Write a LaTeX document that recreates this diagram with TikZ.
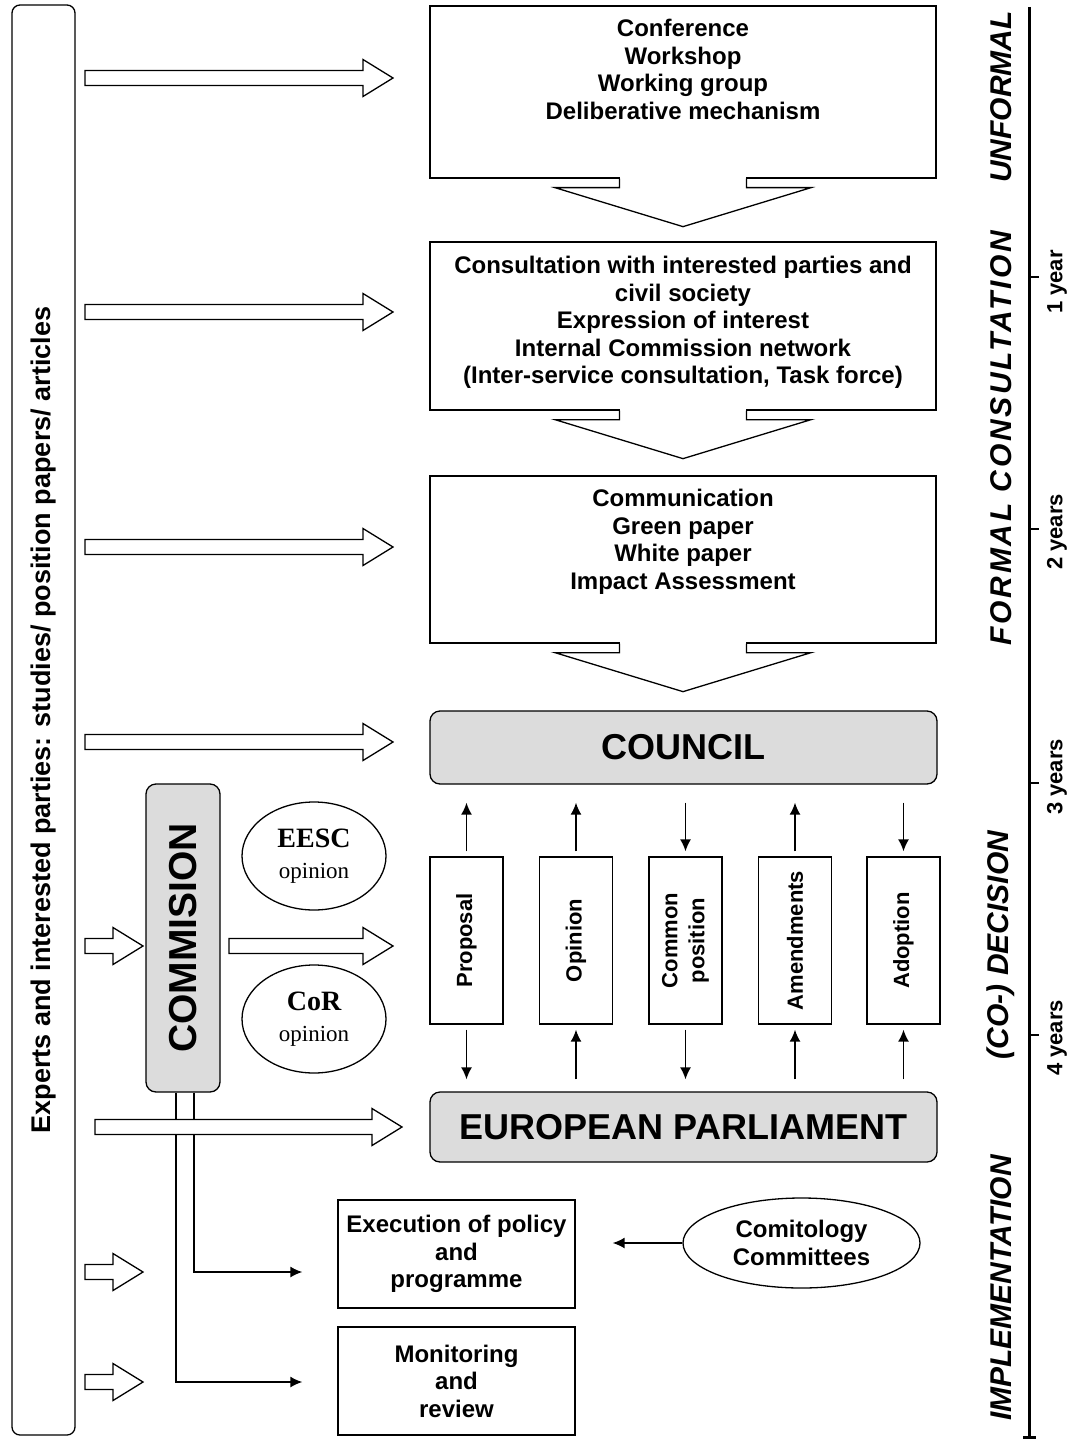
\documentclass[tikz,border=0pt]{standalone}
\usepackage{fontspec}
\setmainfont{Liberation Sans}
\newfontfamily\serifface{Liberation Serif}
\usetikzlibrary{arrows.meta,calc,shapes.geometric}
\definecolor{boxgray}{HTML}{DCDCDC}
\tikzset{
  sqbox/.style={draw, line width=1.3pt, fill=white, inner sep=0pt},
  graybox/.style={draw, line width=1.3pt, fill=boxgray, rounded corners=10pt, inner sep=0pt},
  btext/.style={font=\fontsize{24}{27.5}\selectfont\bfseries, align=center, inner sep=0pt},
  vtext/.style={font=\fontsize{22}{27}\selectfont\bfseries, align=center, inner sep=0pt, rotate=90},
  phase/.style={font=\fontsize{30}{34}\selectfont\bfseries\itshape, inner sep=0pt, rotate=90},
  tick/.style={font=\fontsize{22}{24}\selectfont\bfseries, inner sep=0pt, rotate=90},
  oval/.style={draw, line width=1.3pt, ellipse, fill=white, inner sep=0pt, align=center},
  blk/.style={draw, line width=1.3pt, fill=white, line join=miter},
  arr/.style={line width=1.6pt, -{Latex[length=12pt,width=11pt]}},
  axis/.style={line width=3pt},
}
\newcommand{\hblk}[3]{%
  \draw[blk] (#1,#3-7.5) -- (#2-30,#3-7.5) -- (#2-30,#3-18.5) -- (#2,#3) -- (#2-30,#3+18.5) -- (#2-30,#3+7.5) -- (#1,#3+7.5) -- cycle;}
\newcommand{\vblk}[1]{%
  \fill[white] ($(#1.south)+(-62.8,-1.5)$) rectangle ($(#1.south)+(62.8,1.5)$);
  \draw[line width=1.3pt, line join=miter] ($(#1.south)+(-63.5,0)$) -- ++(0,9) -- ++(-64.5,0) -- ($(#1.south)+(0,48)$) -- ($(#1.south)+(128,9)$) -- ++(-64.5,0) -- ++(0,-9);}
\begin{document}
\begin{tikzpicture}[x=1pt,y=-1pt]
\useasboundingbox (0,0) rectangle (1082,1442);
\fill[white] (0,0) rectangle (1082,1442);

% left bar
\node[draw, line width=1.3pt, rounded corners=8pt, minimum width=63pt, minimum height=1430pt, inner sep=0pt] (bar) at (43.5,720) {};
\node[rotate=90, font=\fontsize{27}{30}\selectfont\bfseries, inner sep=0pt] (bartext) at (44,720) {Experts and interested parties: studies/ position papers/ articles};

% top boxes
\node[sqbox, minimum width=506pt, minimum height=172pt] (b1) at (683,92) {};
\node[btext, anchor=north] (t1) at (683,19) {Conference\\Workshop\\Working group\\Deliberative mechanism};
\node[sqbox, minimum width=506pt, minimum height=168pt] (b2) at (683,326) {};
\node[btext, anchor=north] (t2) at (683,256) {Consultation with interested parties and\\civil society\\Expression of interest\\Internal Commission network\\(Inter-service consultation, Task force)};
\node[sqbox, minimum width=506pt, minimum height=167pt] (b3) at (683,559.5) {};
\node[btext, anchor=north] (t3) at (683,489) {Communication\\Green paper\\White paper\\Impact Assessment};

\vblk{b1}
\vblk{b2}
\vblk{b3}

% council and parliament
\node[graybox, minimum width=507pt, minimum height=73pt, font=\fontsize{36}{40}\selectfont\bfseries] (council) at (683.5,747.5) {COUNCIL};
\node[graybox, minimum width=507pt, minimum height=70pt, font=\fontsize{36}{40}\selectfont\bfseries] (ep) at (683.5,1127) {EUROPEAN PARLIAMENT};

% vertical boxes
\node[sqbox, minimum width=73pt, minimum height=167pt] (v1) at (466.5,940.5) {};
\node[sqbox, minimum width=73pt, minimum height=167pt] (v2) at (576,940.5) {};
\node[sqbox, minimum width=73pt, minimum height=167pt] (v3) at (685.5,940.5) {};
\node[sqbox, minimum width=73pt, minimum height=167pt] (v4) at (795,940.5) {};
\node[sqbox, minimum width=73pt, minimum height=167pt] (v5) at (903.5,940.5) {};
\node[vtext] (v1t) at (v1) {Proposal};
\node[vtext] (v2t) at (v2) {Opinion};
\node[vtext] (v3t) at (v3) {Common\\position};
\node[vtext] (v4t) at (v4) {Amendments};
\node[vtext] (v5t) at (v5) {Adoption};

% arrows council <-> boxes
\draw[arr] ($(v1.north)+(0,-5)$) -- ($(v1.north |- council.south)+(0,18)$);
\draw[arr] ($(v2.north)+(0,-5)$) -- ($(v2.north |- council.south)+(0,18)$);
\draw[arr] ($(v3.north |- council.south)+(0,18)$) -- ($(v3.north)+(0,-5)$);
\draw[arr] ($(v4.north)+(0,-5)$) -- ($(v4.north |- council.south)+(0,18)$);
\draw[arr] ($(v5.north |- council.south)+(0,18)$) -- ($(v5.north)+(0,-5)$);
% arrows boxes <-> parliament
\draw[arr] ($(v1.south)+(0,5)$) -- ($(v1.south |- ep.north)+(0,-12)$);
\draw[arr] ($(v2.south |- ep.north)+(0,-12)$) -- ($(v2.south)+(0,5)$);
\draw[arr] ($(v3.south)+(0,5)$) -- ($(v3.south |- ep.north)+(0,-12)$);
\draw[arr] ($(v4.south |- ep.north)+(0,-12)$) -- ($(v4.south)+(0,5)$);
\draw[arr] ($(v5.south |- ep.north)+(0,-12)$) -- ($(v5.south)+(0,5)$);

% commission
\node[graybox, minimum width=74pt, minimum height=308pt] (comm) at (183,938) {};
\node[rotate=90, font=\fontsize{39}{42}\selectfont\bfseries, inner sep=0pt] (commt) at (comm) {COMMISION};

% opinions
\node[oval, minimum width=144pt, minimum height=108pt, font=\serifface\fontsize{23}{31}\selectfont] (eesc) at (314,856) {{\bfseries\fontsize{28}{31}\selectfont EESC}\\opinion};
\node[oval, minimum width=144pt, minimum height=108pt, font=\serifface\fontsize{23}{31}\selectfont] (cor) at (314,1019) {{\bfseries\fontsize{28}{31}\selectfont CoR}\\opinion};

% implementation
\node[sqbox, minimum width=237pt, minimum height=108pt, btext] (exec) at (456.5,1254) {Execution of policy\\and\\programme};
\node[sqbox, minimum width=237pt, minimum height=108pt, btext] (mon) at (456.5,1381) {Monitoring\\and\\review};
\node[oval, minimum width=237pt, minimum height=90pt, font=\fontsize{24}{28}\selectfont\bfseries] (comi) at (801.5,1243) {Comitology\\Committees};
\draw[arr] (comi.west) -- ($(exec.east |- comi.west)+(37,0)$);

% commission lines
\draw[arr] ($(comm.south)+(11,0)$) |- ($(exec.west)+(-35,18)$);
\draw[arr] ($(comm.south)+(-7,0)$) |- ($(mon.west)+(-35,1)$);

% block arrows from left bar
\hblk{85}{393}{78}
\hblk{85}{393}{312}
\hblk{85}{393}{547}
\hblk{85}{393}{742}
\hblk{85}{143}{946}
\hblk{229}{393}{946}
\hblk{95}{402}{1127}
\hblk{85}{143}{1272}
\hblk{85}{143}{1382}

% time axis
\draw[axis] (1029,7) -- (1029,1437);
\draw[axis] (1023,1437) -- (1036,1437);
\draw[line width=2.5pt] (1029,277) -- (1039,277);
\draw[line width=2.5pt] (1029,529) -- (1039,529);
\draw[line width=2.5pt] (1029,783) -- (1039,783);
\draw[line width=2.5pt] (1029,1035) -- (1039,1035);
\node[tick] (y1) at (1057,282) {1 year};
\node[tick] (y2) at (1057,532) {2 years};
\node[tick] (y3) at (1057,777) {3 years};
\node[tick] (y4) at (1057,1038) {4 years};

% phase labels
\node[phase] (p1) at (1001,97) {UNFORMAL};
\node[phase] (p2) at (1001,438) {\addfontfeatures{LetterSpace=9}FORMAL CONSULTATION};
\node[phase] (p3) at (1001,945) {(CO-) DECISION};
\node[phase] (p4) at (1001,1288) {IMPLEMENTATION};
\end{tikzpicture}
\end{document}
